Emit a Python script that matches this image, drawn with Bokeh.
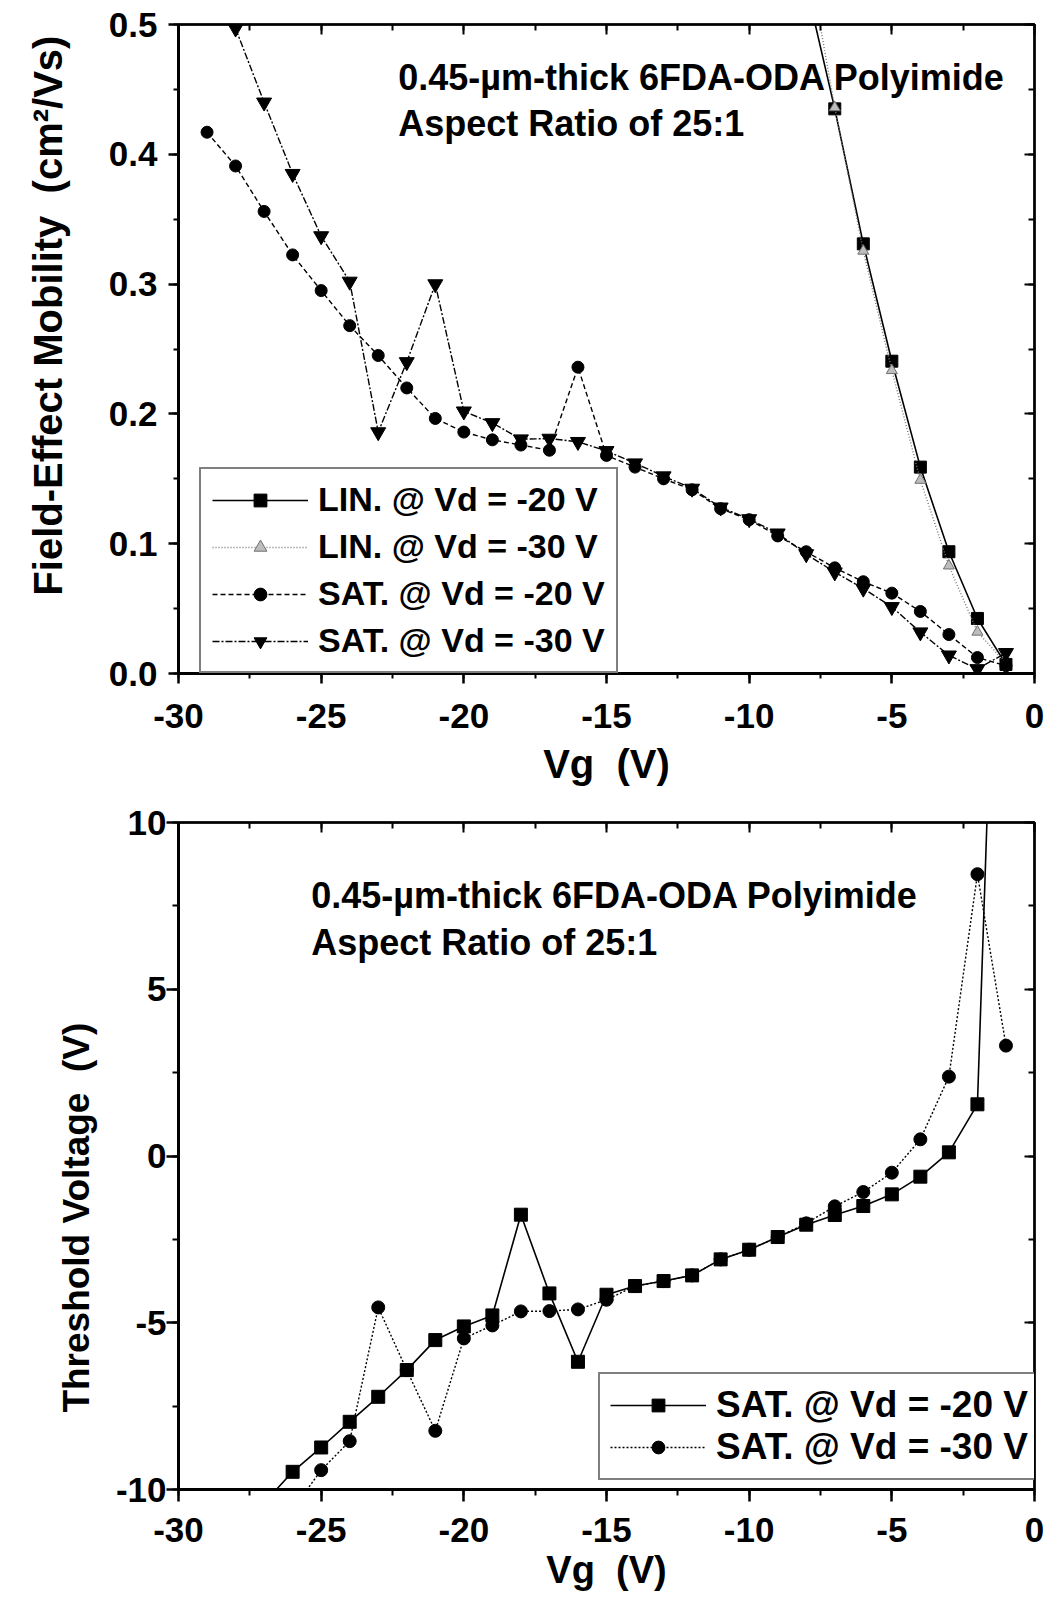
from bokeh.plotting import figure
from bokeh.models import (Range1d, SingleIntervalTicker, LinearAxis, Label,
                          NumeralTickFormatter)
from bokeh.layouts import column
from bokeh.embed import file_html
from bokeh.resources import INLINE

FONT = "Liberation Sans"
NB = "\u00a0"

# ---------------- data: top panel (field-effect mobility) ----------------
vg_lin = [-8, -7, -6, -5, -4, -3, -2, -1]
lin_vd20 = [0.53, 0.435, 0.331, 0.2406, 0.159, 0.0938, 0.0424, 0.007]
lin_vd30 = [0.56, 0.436, 0.3255, 0.2335, 0.149, 0.083, 0.032, 0.008]

vg_sat20 = [-29, -28, -27, -26, -25, -24, -23, -22, -21, -20, -19, -18, -17, -16, -15,
            -14, -13, -12, -11, -10, -9, -8, -7, -6, -5, -4, -3, -2, -1]
sat_vd20 = [0.417, 0.391, 0.356, 0.3225, 0.295, 0.268, 0.245, 0.220, 0.1965, 0.186,
            0.180, 0.176, 0.172, 0.236, 0.168, 0.159, 0.150, 0.1415, 0.127, 0.1185,
            0.106, 0.0938, 0.0814, 0.0707, 0.0619, 0.0478, 0.030, 0.0123, 0.006]

vg_sat30 = [-28, -27, -26, -25, -24, -23, -22, -21, -20, -19, -18, -17, -16, -15,
            -14, -13, -12, -11, -10, -9, -8, -7, -6, -5, -4, -3, -2, -1]
sat_vd30 = [0.497, 0.440, 0.385, 0.337, 0.302, 0.186, 0.240, 0.300, 0.202, 0.193,
            0.1805, 0.181, 0.1785, 0.1715, 0.162, 0.152, 0.1425, 0.128, 0.119, 0.108,
            0.092, 0.078, 0.0655, 0.0513, 0.0318, 0.014, 0.0035, 0.0159]

# ---------------- data: bottom panel (threshold voltage) ----------------
vg_vt20 = [-27, -26, -25, -24, -23, -22, -21, -20, -19, -18, -17, -16, -15, -14,
           -13, -12, -11, -10, -9, -8, -7, -6, -5, -4, -3, -2, -1]
vt_vd20 = [-10.4, -9.47, -8.74, -7.97, -7.22, -6.42, -5.52, -5.11, -4.78, -1.76,
           -4.12, -6.17, -4.16, -3.90, -3.75, -3.58, -3.10, -2.81, -2.43, -2.06,
           -1.77, -1.50, -1.15, -0.62, 0.11, 1.55, 27.0]

vg_vt30 = [-26, -25, -24, -23, -22, -21, -20, -19, -18, -17, -16, -15, -14, -13,
           -12, -11, -10, -9, -8, -7, -6, -5, -4, -3, -2, -1]
vt_vd30 = [-10.6, -9.42, -8.55, -4.54, -6.42, -8.24, -5.47, -5.08, -4.66, -4.65,
           -4.60, -4.31, -3.90, -3.75, -3.58, -3.10, -2.81, -2.43, -2.02, -1.51,
           -1.08, -0.50, 0.50, 2.38, 8.45, 3.31]

x_ticks = ["-30", "-25", "-20", "-15", "-10", "-5", "0"]
vt_ticks = ["-10", "-5", "0", "5", "10"]
note_lines = ["0.45-\u00b5m-thick 6FDA-ODA Polyimide", "Aspect Ratio of 25:1"]

x_label = "Vg" + NB + NB + "(V)"
mob_label = NB * 6 + "Field-Effect Mobility" + NB + NB + "(cm\u00b2/Vs)"
vt_label = "Threshold Voltage" + NB + NB + "(V)" + NB * 12


def make_fig(width, height, borders, xr, yr, xint, yint, ylabel, tick_out,
             xlab_std, ylab_std, xaxlab_std, yaxlab_std, xlab_size, ylab_size):
    left, right, top, bottom = borders
    p = figure(width=width, height=height, output_backend="svg", toolbar_location=None,
               x_range=Range1d(*xr), y_range=Range1d(*yr),
               x_axis_type=None, y_axis_type=None,
               min_border_left=left, min_border_right=right,
               min_border_top=top, min_border_bottom=bottom)
    p.xgrid.visible = False
    p.ygrid.visible = False
    p.outline_line_color = "black"
    p.outline_line_width = 2.5
    p.background_fill_color = "white"
    p.border_fill_color = "white"

    xtk = SingleIntervalTicker(interval=xint, num_minor_ticks=2)
    ytk = SingleIntervalTicker(interval=yint, num_minor_ticks=2)

    xa = LinearAxis(ticker=xtk, axis_label=x_label)
    ya = LinearAxis(ticker=ytk, axis_label=ylabel)
    for ax in (xa, ya):
        ax.axis_line_width = 3
        ax.major_tick_line_width = 2.5
        ax.minor_tick_line_width = 2
        ax.major_tick_out = tick_out
        ax.major_tick_in = 0
        ax.minor_tick_out = tick_out // 2
        ax.minor_tick_in = 0
        ax.major_label_text_font = FONT
        ax.major_label_text_font_style = "bold"
        ax.major_label_text_font_size = "35px"
        ax.major_label_text_color = "black"
        ax.axis_label_text_font = FONT
        ax.axis_label_text_font_style = "bold"
        ax.axis_label_text_color = "black"
    xa.major_label_standoff = xlab_std
    ya.major_label_standoff = ylab_std
    xa.axis_label_standoff = xaxlab_std
    ya.axis_label_standoff = yaxlab_std
    xa.axis_label_text_font_size = xlab_size
    ya.axis_label_text_font_size = ylab_size
    xa.major_label_overrides = {int(s): s for s in x_ticks}
    p.add_layout(xa, "below")
    p.add_layout(ya, "left")

    # inward ticks on the top and right frame edges (no labels)
    ta = LinearAxis(ticker=SingleIntervalTicker(interval=xint, num_minor_ticks=2))
    ra = LinearAxis(ticker=SingleIntervalTicker(interval=yint, num_minor_ticks=2))
    for ax in (ta, ra):
        ax.axis_line_width = 2
        ax.major_tick_in = 10
        ax.major_tick_out = 0
        ax.minor_tick_in = 6
        ax.minor_tick_out = 0
        ax.major_tick_line_width = 2
        ax.minor_tick_line_width = 2
        ax.major_label_text_color = None
        ax.major_label_text_font_size = "1px"
        ax.major_label_standoff = 0
    p.add_layout(ta, "above")
    p.add_layout(ra, "right")
    return p, xa, ya


def style_legend(p, loc, padding, spacing, size):
    lg = p.legend[0]
    lg.location = loc
    lg.border_line_color = "black"
    lg.border_line_width = 2
    lg.background_fill_color = "white"
    lg.background_fill_alpha = 1.0
    lg.padding = padding
    lg.spacing = spacing
    lg.margin = 0
    lg.label_standoff = 10
    lg.glyph_width = 96
    lg.glyph_height = 32
    lg.label_height = 32
    lg.label_text_font = FONT
    lg.label_text_font_style = "bold"
    lg.label_text_font_size = size
    lg.label_text_color = "black"


def add_note(p, x, ys):
    for txt, yy in zip(note_lines, ys):
        p.add_layout(Label(x=x, y=yy, text=txt, text_font=FONT,
                           text_font_style="bold", text_font_size="36px",
                           text_baseline="alphabetic", text_color="black"))


# ---------------- top figure ----------------
p1, xa1, ya1 = make_fig(1048, 800, (168, 14, 24, 127), (-30, 0), (0, 0.5), 5, 0.1,
                        mob_label, 10, 20, 11, 11, 36, "40px", "40px")
ya1.formatter = NumeralTickFormatter(format="0.0")

p1.line(vg_lin, lin_vd20, line_color="black", line_width=1.6,
        legend_label="LIN. @ Vd = -20 V")
p1.scatter(vg_lin, lin_vd20, marker="square", size=12, color="black",
           legend_label="LIN. @ Vd = -20 V")
p1.line(vg_lin, lin_vd30, line_color="#777777", line_width=1.4, line_dash="1 2",
        legend_label="LIN. @ Vd = -30 V")
p1.scatter(vg_lin, lin_vd30, marker="triangle", size=11, fill_color="#bdbdbd",
           line_color="#707070", line_width=1, legend_label="LIN. @ Vd = -30 V")
p1.line(vg_sat20, sat_vd20, line_color="black", line_width=1.4, line_dash="5 3",
        legend_label="SAT. @ Vd = -20 V")
p1.scatter(vg_sat20, sat_vd20, marker="circle", size=12, color="black",
           legend_label="SAT. @ Vd = -20 V")
p1.line(vg_sat30, sat_vd30, line_color="black", line_width=1.4, line_dash="7 2 2 2",
        legend_label="SAT. @ Vd = -30 V")
p1.scatter(vg_sat30, sat_vd30, marker="inverted_triangle", size=15, color="black",
           legend_label="SAT. @ Vd = -30 V")
style_legend(p1, (21, 0), 11, 8, "34px")
add_note(p1, -22.3, [0.459, 0.4235])

# ---------------- bottom figure ----------------
p2, xa2, ya2 = make_fig(1048, 805, (178, 10, 22, 116), (-30, 0), (-10, 10), 5, 5,
                        vt_label, 12, 16, 0, 4, 16, "38px", "37px")
ya2.major_label_overrides = {int(s): s for s in vt_ticks}

p2.line(vg_vt20, vt_vd20, line_color="black", line_width=1.6,
        legend_label="SAT. @ Vd = -20 V")
p2.scatter(vg_vt20, vt_vd20, marker="square", size=13, color="black",
           legend_label="SAT. @ Vd = -20 V")
p2.line(vg_vt30, vt_vd30, line_color="black", line_width=1.4, line_dash="2 2",
        legend_label="SAT. @ Vd = -30 V")
p2.scatter(vg_vt30, vt_vd30, marker="circle", size=13, color="black",
           legend_label="SAT. @ Vd = -30 V")
style_legend(p2, (420, 9), 10, 0, "37px")
add_note(p2, -25.35, [7.82, 6.41])

layout = column(p1, p2, spacing=0)
open("out.html", "w").write(file_html(layout, INLINE))
